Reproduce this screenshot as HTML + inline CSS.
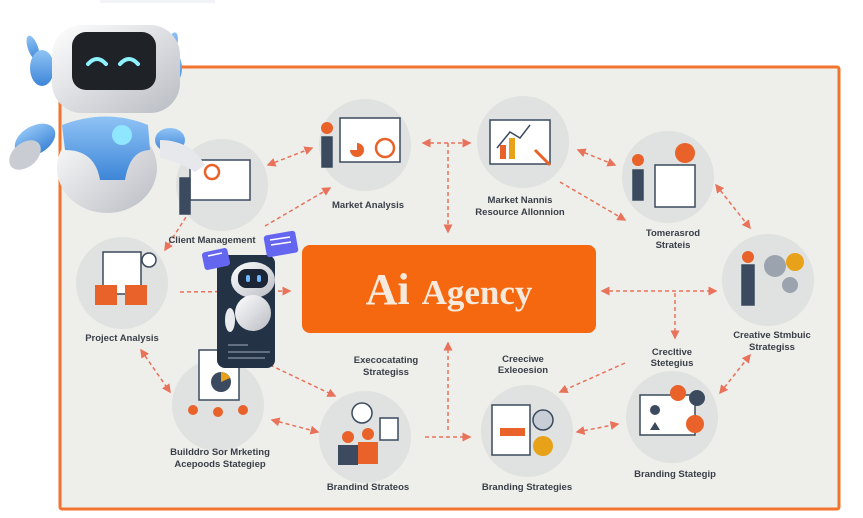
<!DOCTYPE html>
<html><head><meta charset="utf-8"><style>
html,body{margin:0;padding:0;background:#fff;width:863px;height:518px;overflow:hidden}
svg{display:block}
.l{font-family:"Liberation Sans",sans-serif;font-weight:bold;font-size:9.5px;fill:#3a3f47;text-anchor:middle}
</style></head><body>
<svg width="863" height="518" viewBox="0 0 863 518" xmlns="http://www.w3.org/2000/svg">
<defs>
<marker id="a" markerWidth="6" markerHeight="6" refX="5" refY="3" orient="auto-start-reverse"><path d="M0,0 L6,3 L0,6 z" fill="#e8735a"/></marker>
<linearGradient id="bl" x1="0" y1="0" x2="0" y2="1"><stop offset="0" stop-color="#8fc3f5"/><stop offset="1" stop-color="#3e86d8"/></linearGradient>
<linearGradient id="wh" x1="0" y1="0" x2="1" y2="1"><stop offset="0" stop-color="#ffffff"/><stop offset="1" stop-color="#b9bcc3"/></linearGradient>
</defs>
<rect x="100" y="0" width="115" height="3" fill="#f1f3f6"/>
<rect x="60" y="67" width="779" height="442" fill="#eeeeeb" stroke="#f2742c" stroke-width="3" rx="2"/>
<g stroke="#e8735a" stroke-width="1.5" stroke-dasharray="4,3" fill="none" marker-start="url(#a)" marker-end="url(#a)">
<line x1="268" y1="165" x2="312" y2="148"/>
<line x1="423" y1="143" x2="470" y2="143"/>
<line x1="578" y1="150" x2="615" y2="165"/>
<line x1="716" y1="185" x2="750" y2="228"/>
<line x1="165" y1="250" x2="193" y2="206"/>
<line x1="141" y1="350" x2="170" y2="392"/>
<line x1="272" y1="420" x2="318" y2="432"/>
<line x1="577" y1="432" x2="618" y2="424"/>
<line x1="720" y1="393" x2="750" y2="355"/>
<line x1="602" y1="291" x2="716" y2="291"/>
</g>
<g stroke="#e8735a" stroke-width="1.5" stroke-dasharray="4,3" fill="none" marker-end="url(#a)">
<line x1="265" y1="226" x2="330" y2="188"/>
<line x1="560" y1="182" x2="625" y2="220"/>
<line x1="448" y1="143" x2="448" y2="232"/>
<line x1="675" y1="293" x2="675" y2="338"/>
<line x1="180" y1="292" x2="290" y2="291"/>
<line x1="625" y1="363" x2="560" y2="392"/>
<line x1="448" y1="430" x2="448" y2="343"/>
<line x1="425" y1="437" x2="470" y2="437"/>
<line x1="270" y1="365" x2="335" y2="396"/>
</g>
<g fill="#dfe2e1">
<circle cx="222" cy="185" r="46"/><circle cx="365" cy="145" r="46"/><circle cx="523" cy="142" r="46"/>
<circle cx="668" cy="177" r="46"/><circle cx="768" cy="280" r="46"/><circle cx="122" cy="283" r="46"/>
<circle cx="218" cy="405" r="46"/><circle cx="365" cy="437" r="46"/><circle cx="527" cy="431" r="46"/>
<circle cx="672" cy="417" r="46"/>
</g>
<g stroke="#3b4a5e" stroke-width="1.5">
<rect x="340" y="118" width="60" height="44" fill="#fff"/><circle cx="385" cy="148" r="9" fill="none" stroke="#e8622a" stroke-width="2.5"/><path d="M350 150a7 7 0 1 0 7 -7v7z" fill="#e8622a" stroke="none"/>
<rect x="322" y="137" width="10" height="30" fill="#3b4a5e"/><circle cx="327" cy="128" r="6" fill="#e8622a" stroke="none"/>
<rect x="490" y="120" width="60" height="44" fill="#fff"/><rect x="500" y="145" width="6" height="14" fill="#e8622a" stroke="none"/><rect x="509" y="138" width="6" height="21" fill="#e8a21a" stroke="none"/><polyline points="497,148 510,132 520,138 530,125" fill="none" stroke="#3b4a5e"/><line x1="535" y1="150" x2="550" y2="165" stroke="#e8622a" stroke-width="3"/>
<rect x="655" y="165" width="40" height="42" fill="#fff"/><circle cx="685" cy="153" r="10" fill="#e8622a" stroke="none"/><rect x="633" y="170" width="10" height="30" fill="#3b4a5e"/><circle cx="638" cy="160" r="6" fill="#e8622a" stroke="none"/>
<circle cx="775" cy="266" r="11" fill="#9aa3ae" stroke="none"/><circle cx="795" cy="262" r="9" fill="#e8a21a" stroke="none"/><circle cx="790" cy="285" r="8" fill="#9aa3ae" stroke="none"/><rect x="742" y="265" width="12" height="40" fill="#3b4a5e"/><circle cx="748" cy="257" r="6" fill="#e8622a" stroke="none"/>
<rect x="190" y="160" width="60" height="40" fill="#fff"/><circle cx="212" cy="172" r="7" fill="none" stroke="#e8622a" stroke-width="2.5"/><rect x="180" y="178" width="10" height="36" fill="#3b4a5e"/>
<rect x="103" y="252" width="38" height="42" fill="#fff"/><rect x="95" y="285" width="22" height="20" fill="#e8622a" stroke="none"/><rect x="125" y="285" width="22" height="20" fill="#e8622a" stroke="none"/><circle cx="149" cy="260" r="7" fill="#fff"/>
<rect x="199" y="350" width="40" height="50" fill="#fff"/><circle cx="221" cy="382" r="10" fill="#3b4a5e" stroke="none"/><path d="M221 382v-10a10 10 0 0 1 9 6z" fill="#e8a21a" stroke="none"/>
<circle cx="193" cy="410" r="5" fill="#e8622a" stroke="none"/><circle cx="218" cy="412" r="5" fill="#e8622a" stroke="none"/><circle cx="243" cy="410" r="5" fill="#e8622a" stroke="none"/>
<circle cx="362" cy="413" r="10" fill="#fff"/><rect x="380" y="418" width="18" height="22" fill="#fff"/><rect x="338" y="445" width="20" height="20" fill="#3b4a5e" stroke="none"/><rect x="358" y="442" width="20" height="22" fill="#e8622a" stroke="none"/><circle cx="348" cy="437" r="6" fill="#e8622a" stroke="none"/><circle cx="368" cy="434" r="6" fill="#e8622a" stroke="none"/>
<rect x="492" y="405" width="38" height="50" fill="#fff"/><rect x="500" y="428" width="25" height="8" fill="#e8622a" stroke="none"/><circle cx="543" cy="420" r="10" fill="#c9ced6"/><circle cx="543" cy="446" r="10" fill="#e8a21a" stroke="none"/>
<rect x="640" y="395" width="55" height="40" fill="#fff"/><circle cx="678" cy="393" r="8" fill="#e8622a" stroke="none"/><circle cx="697" cy="398" r="8" fill="#3b4a5e" stroke="none"/><circle cx="695" cy="424" r="9" fill="#e8622a" stroke="none"/><circle cx="655" cy="410" r="5" fill="#3b4a5e" stroke="none"/><path d="M650 430l5-8 5 8z" fill="#3b4a5e" stroke="none"/>
</g>
<text class="l" x="212" y="243">Client Management</text>
<text class="l" x="368" y="208">Market Analysis</text>
<text class="l" x="520" y="203">Market Nannis</text><text class="l" x="520" y="215">Resource Allonnion</text>
<text class="l" x="673" y="236">Tomerasrod</text><text class="l" x="673" y="248">Strateis</text>
<text class="l" x="772" y="338">Creative Stmbuic</text><text class="l" x="772" y="350">Strategiss</text>
<text class="l" x="672" y="355">Crecltive</text><text class="l" x="672" y="366">Stetegius</text>
<text class="l" x="523" y="362">Creeciwe</text><text class="l" x="523" y="373">Exleoesion</text>
<text class="l" x="386" y="363">Execocatating</text><text class="l" x="386" y="375">Strategiss</text>
<text class="l" x="122" y="341">Project Analysis</text>
<text class="l" x="220" y="455">Builddro Sor Mrketing</text><text class="l" x="220" y="467">Acepoods Stategiep</text>
<text class="l" x="368" y="490">Brandind Strateos</text>
<text class="l" x="527" y="490">Branding Strategies</text>
<text class="l" x="675" y="477">Branding Stategip</text>
<rect x="302" y="245" width="294" height="88" rx="8" fill="#f5680f"/>
<text x="449" y="304" text-anchor="middle" font-family="Liberation Serif,serif" font-weight="bold" fill="#f7e9dc"><tspan font-size="44">Ai</tspan><tspan font-size="35" dx="12">Agency</tspan></text>
<rect x="217" y="255" width="58" height="113" rx="8" fill="#243246"/>
<rect x="203" y="250" width="26" height="18" rx="3" fill="#6466f0" transform="rotate(-12 216 259)"/>
<rect x="265" y="233" width="32" height="22" rx="3" fill="#6466f0" transform="rotate(-10 281 244)"/>
<g stroke="#fff" stroke-width="1.5"><line x1="270" y1="240" x2="290" y2="237"/><line x1="271" y1="245" x2="291" y2="242"/><line x1="208" y1="256" x2="222" y2="253"/></g>
<ellipse cx="253" cy="280" rx="22" ry="18" fill="url(#wh)"/><rect x="238" y="269" width="30" height="19" rx="8" fill="#1c2535"/>
<rect x="246" y="275" width="4" height="7" rx="2" fill="#6fb7ff"/><rect x="257" y="275" width="4" height="7" rx="2" fill="#6fb7ff"/>
<ellipse cx="253" cy="313" rx="18" ry="18" fill="url(#wh)"/><ellipse cx="230" cy="320" rx="5" ry="12" fill="#e8eaee"/>
<g stroke="#7a8496" stroke-width="1.5"><line x1="228" y1="345" x2="248" y2="345"/><line x1="228" y1="352" x2="270" y2="352"/><line x1="228" y1="358" x2="265" y2="358"/></g>
<ellipse cx="33" cy="48" rx="5" ry="13" fill="url(#bl)" transform="rotate(-20 33 48)"/>
<ellipse cx="172" cy="45" rx="5" ry="13" fill="url(#bl)" transform="rotate(15 172 45)"/>
<ellipse cx="42" cy="68" rx="12" ry="18" fill="url(#bl)"/><ellipse cx="170" cy="68" rx="12" ry="18" fill="url(#bl)"/>
<ellipse cx="107" cy="168" rx="50" ry="45" fill="url(#wh)"/>
<path d="M62 125 Q107 108 148 125 L150 150 Q130 150 125 180 L100 180 Q95 150 65 150z" fill="url(#bl)"/>
<circle cx="122" cy="135" r="10" fill="#8fe6ff"/>
<ellipse cx="35" cy="140" rx="22" ry="14" fill="url(#bl)" transform="rotate(-30 35 140)"/>
<ellipse cx="25" cy="155" rx="18" ry="12" fill="#c9ccd2" transform="rotate(-40 25 155)"/>
<ellipse cx="170" cy="140" rx="15" ry="12" fill="url(#bl)"/>
<path d="M160 140 Q190 140 205 165 L195 172 Q175 160 160 158z" fill="#e6e8ec"/>
<rect x="52" y="25" width="128" height="88" rx="30" fill="url(#wh)"/>
<rect x="72" y="32" width="84" height="58" rx="14" fill="#1f2227"/>
<path d="M88 64 q9 -10 18 0 M120 64 q9 -10 18 0" stroke="#8ff3ff" stroke-width="4" fill="none" stroke-linecap="round"/>
</svg>
</body></html>
